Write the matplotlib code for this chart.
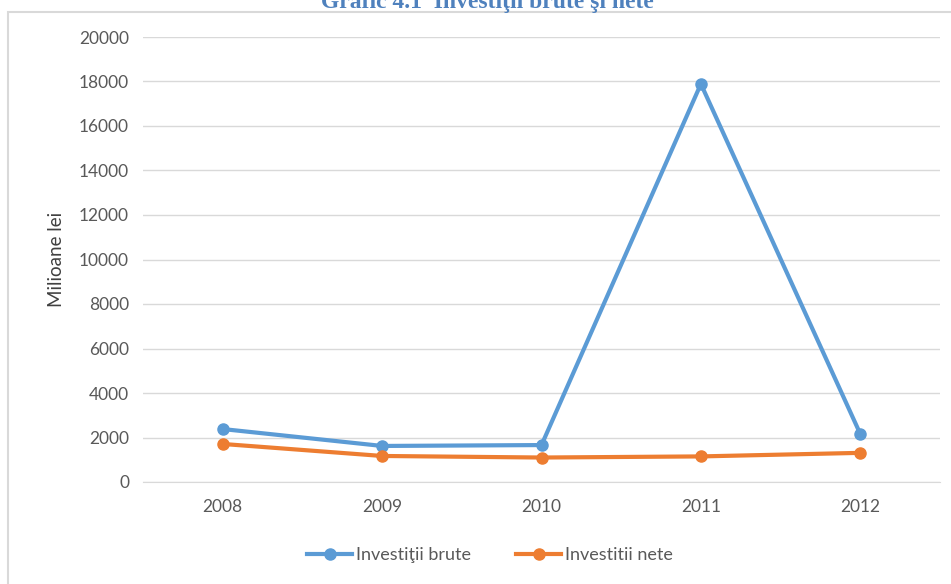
import matplotlib.pyplot as plt
import matplotlib.patches as mpatches

years = ['2008', '2009', '2010', '2011', '2012']
brute = [2380, 1620, 1660, 17890, 2160]
nete = [1710, 1170, 1100, 1150, 1310]
yticks = list(range(0, 20001, 2000))

W, H = 951, 584
fig = plt.figure(figsize=(W / 100, H / 100), dpi=100)
plt.rcParams['font.family'] = ['Lato', 'DejaVu Sans']

# outer chart frame (partly cut off on right/bottom)
fig.patches.append(mpatches.Rectangle((8 / W, -0.01), (W - 8 + 5) / W, (H - 12) / H + 0.01,
                                      transform=fig.transFigure, fill=False,
                                      edgecolor='#D9D9D9', linewidth=1.5))

# axes: plot area from x=143..940, y=37..482 (pixels)
ax = fig.add_axes([143 / W, (H - 482) / H, (940 - 143) / W, (482 - 37) / H])
x = list(range(len(years)))
ax.plot(x, brute, color='#5B9BD5', linewidth=3, marker='o', markersize=8, label='Investiţii brute')
ax.plot(x, nete, color='#ED7D31', linewidth=3, marker='o', markersize=8, label='Investitii nete')

ax.set_xlim(-0.5, len(years) - 0.5)
ax.set_ylim(0, 20000)
ax.set_yticks(yticks)
ax.set_xticks(x)
ax.set_xticklabels(years)
ax.grid(axis='y', color='#D9D9D9', linewidth=1)
ax.set_axisbelow(True)
for s in ['top', 'right', 'left']:
    ax.spines[s].set_visible(False)
ax.spines['bottom'].set_color('#D9D9D9')
ax.tick_params(axis='both', length=0, labelsize=12.5, colors='#595959', pad=10)
ax.tick_params(axis='x', pad=12)
ax.set_ylabel('Milioane lei', fontsize=13.5, color='#404040', labelpad=10)

ax.legend(loc='center', bbox_to_anchor=(490 / W, (H - 555) / H), bbox_transform=fig.transFigure,
          ncol=2, frameon=False, fontsize=13, labelcolor='#595959', handlelength=2.5,
          columnspacing=2.5, handletextpad=0.2)

# title, cut off at the top edge as in the source image
fig.text(487 / W, (H - 8) / H, 'Grafic 4.1  Investiţii brute şi nete', ha='center', va='baseline',
         fontsize=17, fontweight='bold', color='#4F81BD', family=['Liberation Serif', 'DejaVu Serif'])

fig.savefig('out.png', dpi=100)
